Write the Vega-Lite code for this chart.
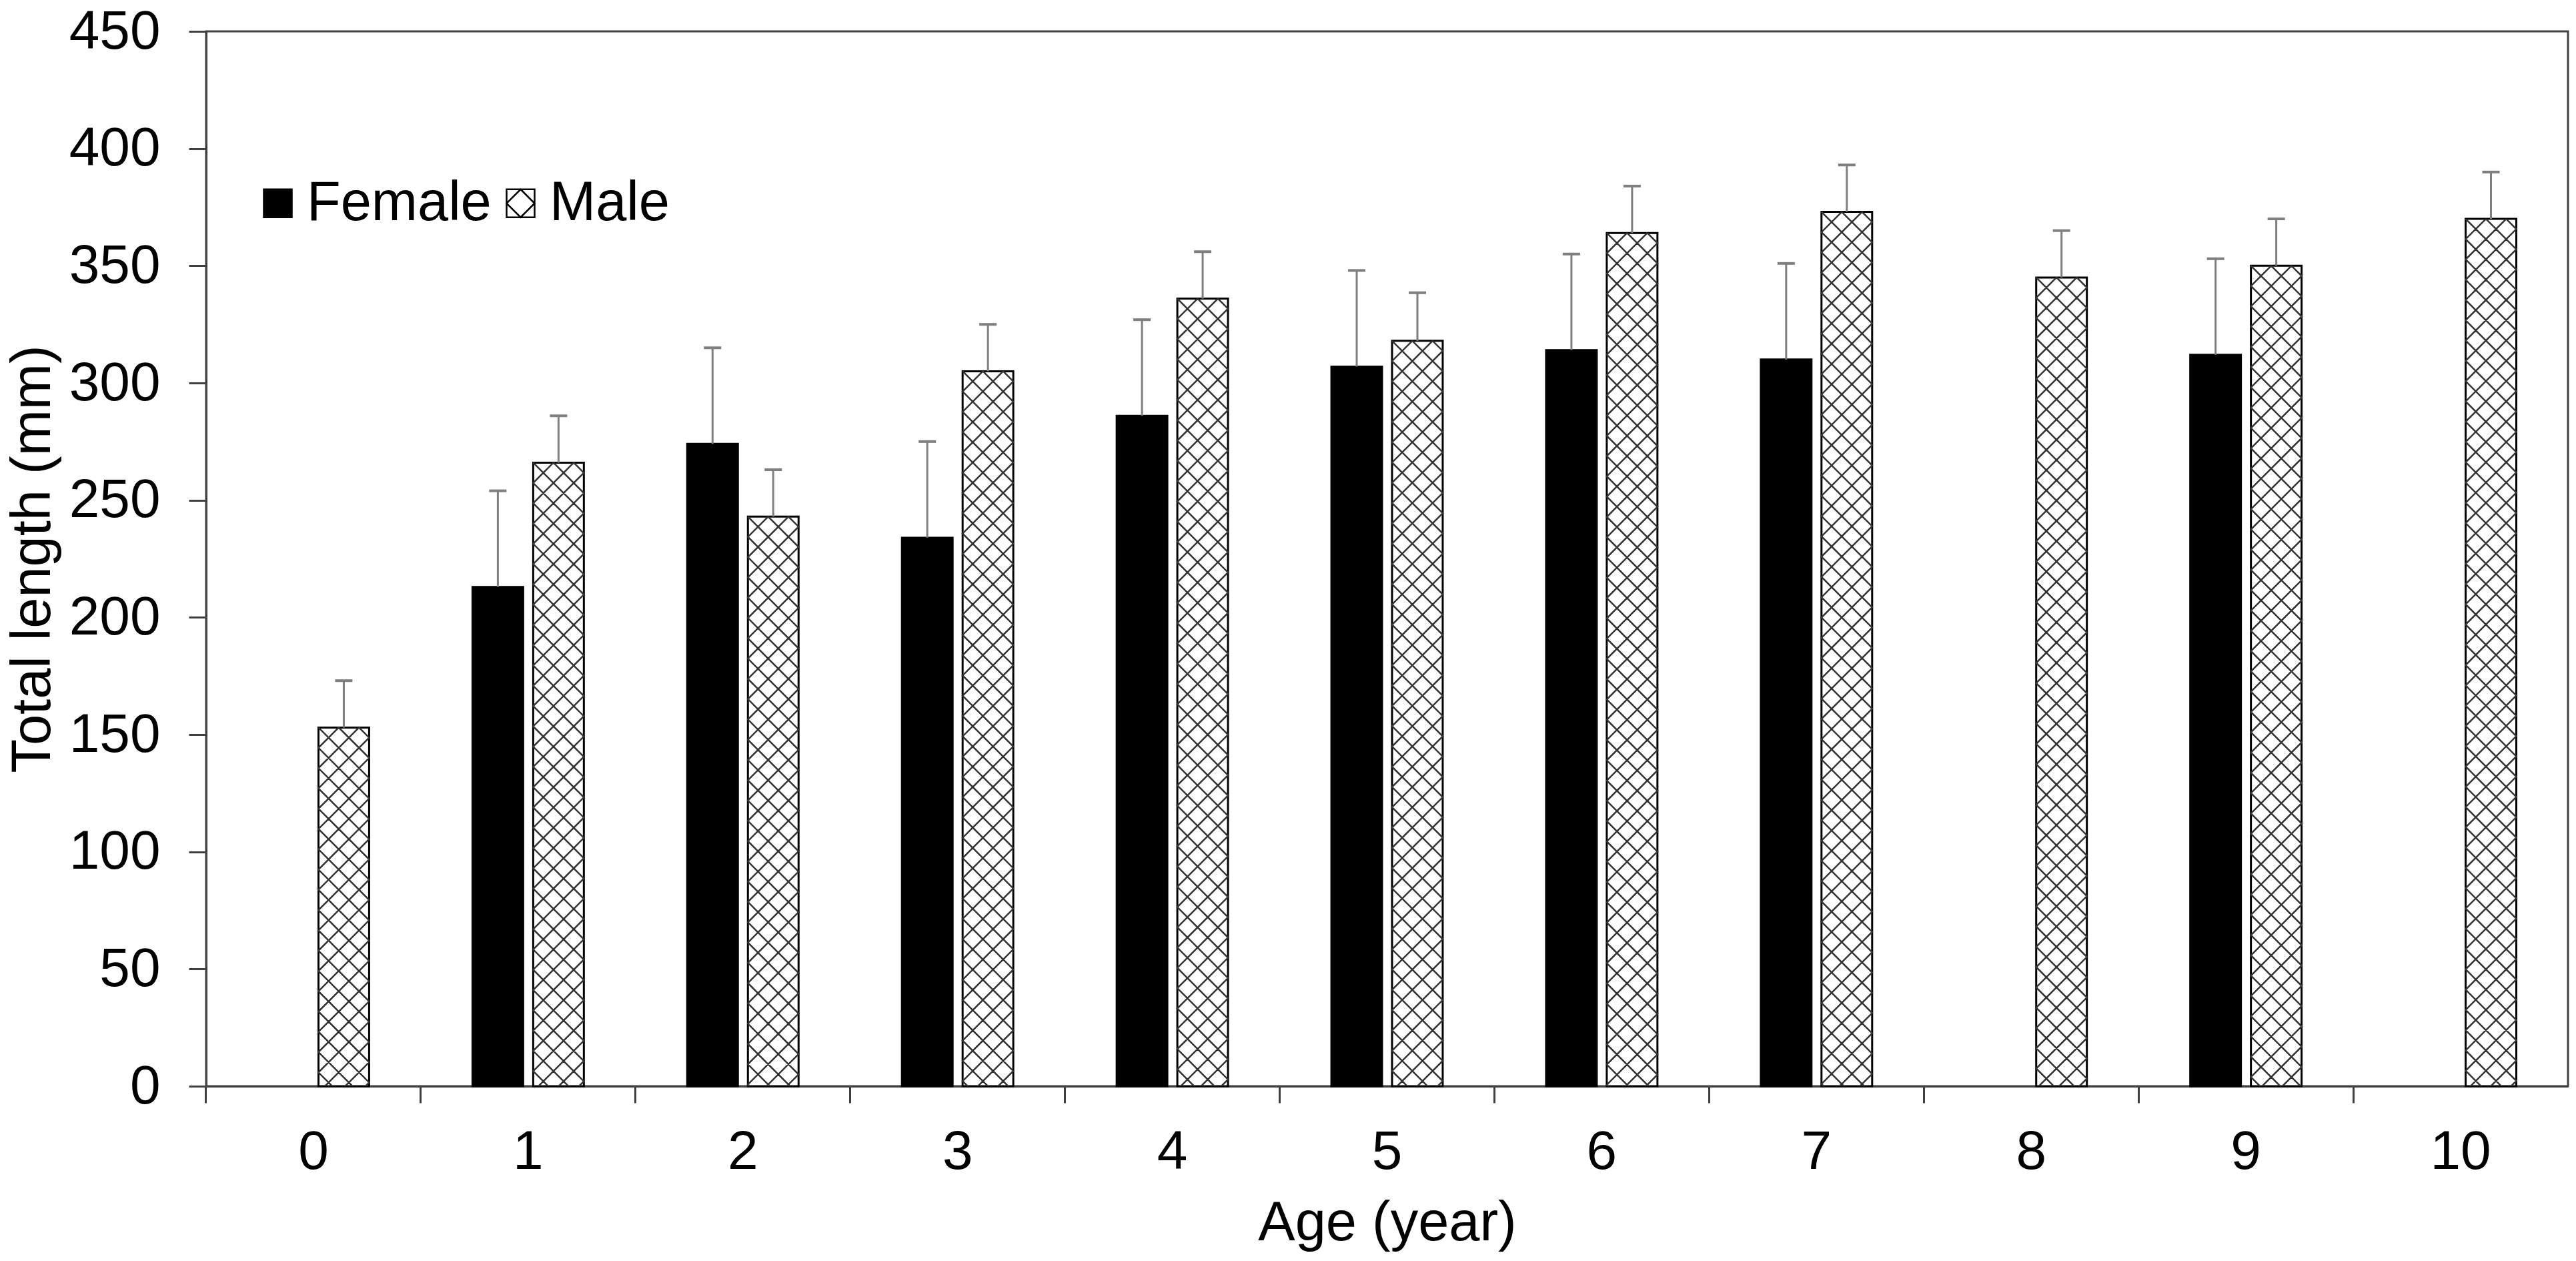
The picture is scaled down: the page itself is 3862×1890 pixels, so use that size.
{
  "$schema": "https://vega.github.io/schema/vega-lite/v6.json",
  "width": 3541,
  "height": 1581,
  "autosize": {"type": "none"},
  "padding": {"left": 309, "top": 47, "right": 12, "bottom": 262},
  "background": "white",
  "config": {
    "font": "Liberation Sans",
    "view": {"stroke": "#404040", "strokeWidth": 3},
    "axis": {
      "grid": false,
      "labelFontSize": 82,
      "labelColor": "black",
      "labelFont": "Liberation Sans",
      "titleFontSize": 83,
      "titleFont": "Liberation Sans",
      "titleFontWeight": "normal",
      "titleColor": "black",
      "tickColor": "#404040",
      "tickWidth": 3,
      "domainColor": "#404040",
      "domainWidth": 3
    }
  },
  "data": {
    "values": [
      {"age": 0, "sex": "Male", "mean": 153, "upper": 173},
      {"age": 1, "sex": "Female", "mean": 213, "upper": 254},
      {"age": 1, "sex": "Male", "mean": 266, "upper": 286},
      {"age": 2, "sex": "Female", "mean": 274, "upper": 315},
      {"age": 2, "sex": "Male", "mean": 243, "upper": 263},
      {"age": 3, "sex": "Female", "mean": 234, "upper": 275},
      {"age": 3, "sex": "Male", "mean": 305, "upper": 325},
      {"age": 4, "sex": "Female", "mean": 286, "upper": 327},
      {"age": 4, "sex": "Male", "mean": 336, "upper": 356},
      {"age": 5, "sex": "Female", "mean": 307, "upper": 348},
      {"age": 5, "sex": "Male", "mean": 318, "upper": 338.5},
      {"age": 6, "sex": "Female", "mean": 314, "upper": 355},
      {"age": 6, "sex": "Male", "mean": 364, "upper": 384},
      {"age": 7, "sex": "Female", "mean": 310, "upper": 351},
      {"age": 7, "sex": "Male", "mean": 373, "upper": 393},
      {"age": 8, "sex": "Male", "mean": 345, "upper": 365},
      {"age": 9, "sex": "Female", "mean": 312, "upper": 353},
      {"age": 9, "sex": "Male", "mean": 350, "upper": 370},
      {"age": 10, "sex": "Male", "mean": 370, "upper": 390}
    ]
  },
  "encoding": {
    "x": {
      "field": "age",
      "type": "ordinal",
      "scale": {"domain": [0, 1, 2, 3, 4, 5, 6, 7, 8, 9, 10], "paddingInner": 0, "paddingOuter": 0},
      "axis": {
        "title": "Age (year)",
        "labelAngle": 0,
        "bandPosition": 0,
        "tickSize": 25,
        "labelPadding": 33,
        "titlePadding": 25
      }
    },
    "xOffset": {
      "field": "sex",
      "type": "nominal",
      "scale": {"domain": ["Female", "Male"], "paddingInner": 0.165, "paddingOuter": 0.852}
    }
  },
  "layer": [
    {
      "mark": {"type": "bar", "stroke": "black", "strokeWidth": 3},
      "encoding": {
        "y": {
          "field": "mean",
          "type": "quantitative",
          "scale": {"domain": [0, 450], "nice": false, "zero": true},
          "axis": {
            "title": "Total length (mm)",
            "values": [0, 50, 100, 150, 200, 250, 300, 350, 400, 450],
            "tickSize": 26,
            "labelPadding": 43,
            "titlePadding": 18
          }
        },
        "color": {
          "field": "sex",
          "type": "nominal",
          "scale": {"domain": ["Female", "Male"], "range": ["black", "white"]},
          "legend": {
            "title": null,
            "orient": "none",
            "legendX": 66,
            "legendY": 216,
            "direction": "horizontal",
            "labelFontSize": 83,
            "labelFont": "Liberation Sans",
            "labelColor": "black",
            "labelLimit": 0,
            "symbolSize": 1764,
            "symbolType": "square",
            "symbolStrokeColor": "black",
            "symbolStrokeWidth": 2,
            "labelOffset": 2,
            "columnPadding": 2,
            "padding": 0,
            "encode": {
              "symbols": {
                "update": {
                  "shape": {"signal": "datum.value === 'Male' ? 'M-1,-1H1V1H-1Z M0,-1L1,0L0,1L-1,0Z' : 'square'"},
                  "stroke": {"value": "black"},
                  "strokeWidth": {"value": 2.5}
                }
              }
            }
          }
        }
      }
    },
    {
      "transform": [{"filter": "datum.sex === 'Male'"}],
      "mark": {
        "type": "point",
        "shape": "M-2,0l4,4l-4,4l4,4l-4,4l4,4l-4,4l4,4l-4,4l4,4l-4,4l4,4l-4,4l4,4l-4,4l4,4l-4,4l4,4l-4,4M-0.4,0l2.4,2.4l-4,4l4,4l-4,4l4,4l-4,4l4,4l-4,4l4,4l-4,4l4,4l-4,4l4,4l-4,4l4,4l-4,4l4,4l-4,4l4,4M1.2,0l0.8,0.8l-4,4l4,4l-4,4l4,4l-4,4l4,4l-4,4l4,4l-4,4l4,4l-4,4l4,4l-4,4l4,4l-4,4l4,4l-4,4l4,4M1.2,0l-3.2,3.2l4,4l-4,4l4,4l-4,4l4,4l-4,4l4,4l-4,4l4,4l-4,4l4,4l-4,4l4,4l-4,4l4,4l-4,4l4,4l-4,4M-0.4,0l-1.6,1.6l4,4l-4,4l4,4l-4,4l4,4l-4,4l4,4l-4,4l4,4l-4,4l4,4l-4,4l4,4l-4,4l4,4l-4,4l4,4l-4,4",
        "size": 1444,
        "filled": false,
        "color": "#333333",
        "strokeWidth": 2.5,
        "opacity": 1,
        "clip": true
      },
      "encoding": {
        "y": {"field": "mean", "type": "quantitative"}
      }
    },
    {
      "mark": {"type": "rule", "color": "#7f7f7f", "strokeWidth": 3},
      "encoding": {
        "y": {"field": "mean", "type": "quantitative"},
        "y2": {"field": "upper"}
      }
    },
    {
      "mark": {"type": "tick", "color": "#7f7f7f", "size": 26, "thickness": 4, "opacity": 1},
      "encoding": {
        "y": {"field": "upper", "type": "quantitative"}
      }
    }
  ]
}
